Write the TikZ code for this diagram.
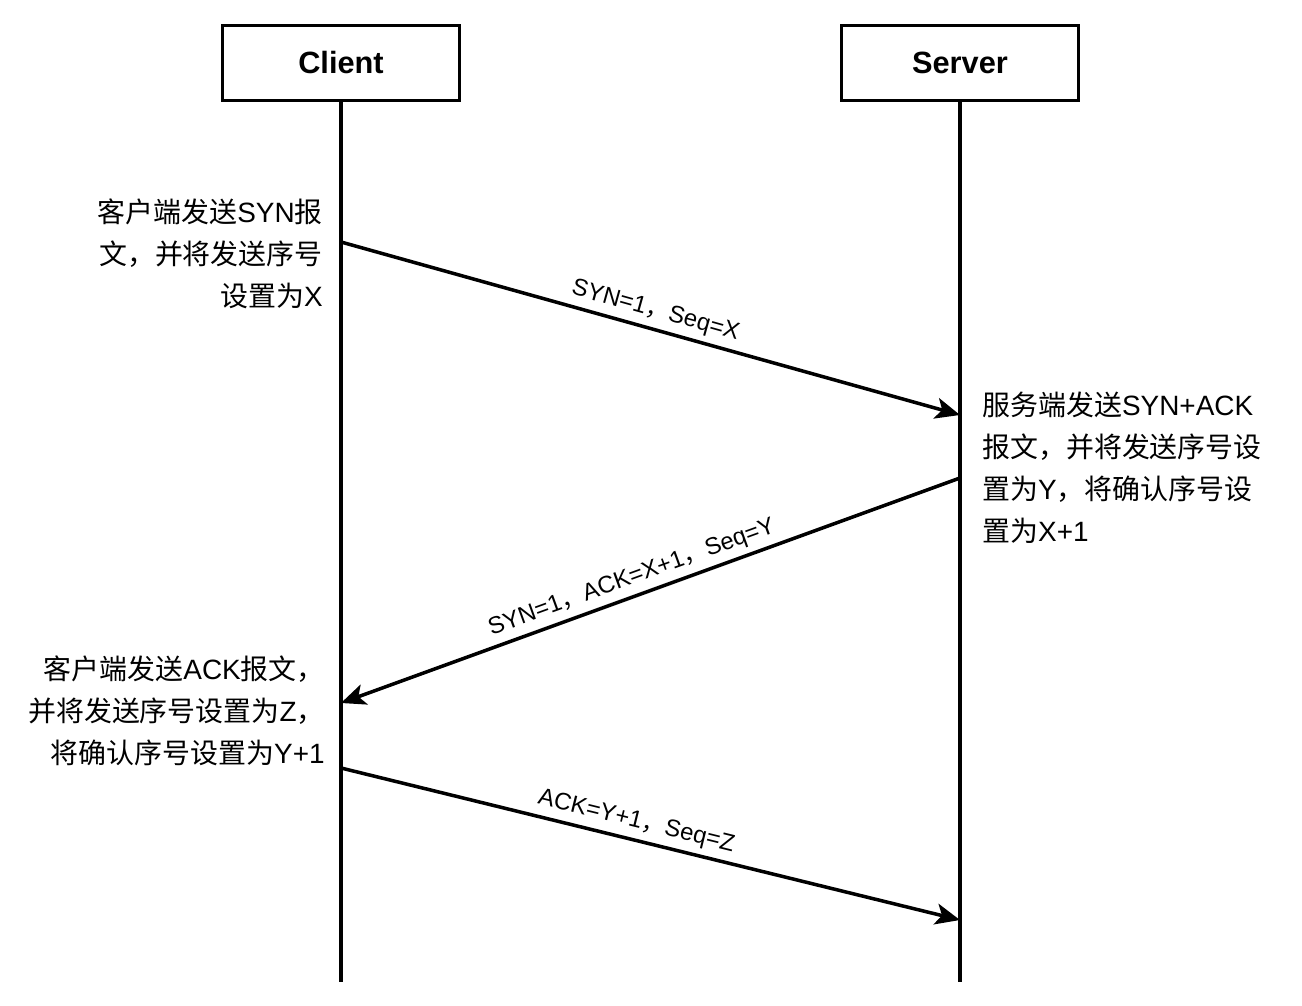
\documentclass[tikz,border=0pt]{standalone}
\usepackage{fontspec}
\setmainfont{Liberation Sans}
\newfontfamily\cjk{Noto Sans CJK SC}
\usetikzlibrary{arrows.meta,positioning}

\begin{document}
\begin{tikzpicture}[
    x=0.02cm, y=-0.02cm,
    >={Stealth[length=14pt,width=12pt,inset=3.5pt]},
    party/.style={draw,line width=2pt,minimum width=4.74cm,minimum height=1.5cm,
                  font=\fontsize{17.5}{21}\selectfont\bfseries},
    life/.style={line width=2pt},
    msg/.style={line width=2pt},
    note/.style={inner sep=0pt,font=\fontsize{15.9}{23.9}\selectfont},
    lbl/.style={sloped,above,inner sep=3pt,font=\fontsize{13.6}{16}\selectfont}
  ]
  \useasboundingbox (0,0) rectangle (1302,1006);

  \node[party] (client) at (341,63) {Client};
  \node[party] (server) at (960,63) {Server};

  \coordinate (cend) at (341,982);
  \coordinate (send) at (960,982);
  \draw[life] (client.south) -- (cend);
  \draw[life] (server.south) -- (send);

  % points on the lifelines
  \coordinate (c1) at (341,242);
  \coordinate (s1) at (960,415);
  \coordinate (c2) at (341,703);
  \coordinate (s2) at (960,478);
  \coordinate (c3) at (341,768);
  \coordinate (s3) at (960,920);

  \draw[msg,->] (c1) -- node[lbl,pos=0.5]{SYN=1{\cjk ，}Seq=X} (s1);
  \draw[msg,<-] (c2) -- node[lbl,pos=0.48]{SYN=1{\cjk ，}ACK=X+1{\cjk ，}Seq=Y} (s2);
  \draw[msg,->] (c3) -- node[lbl,pos=0.47]{ACK=Y+1{\cjk ，}Seq=Z} (s3);

  \node[note,anchor=east,align=right] (n1) at (323,254)
    {{\cjk 客户端发送}SYN{\cjk 报}\\{\cjk 文，并将发送序号}\\{\cjk 设置为}X};
  \node[note,anchor=west,align=left] (n2) at (982,468)
    {{\cjk 服务端发送}SYN+ACK\\{\cjk 报文，并将发送序号设}\\{\cjk 置为}Y{\cjk ，将确认序号设}\\{\cjk 置为}X+1};
  \node[note,anchor=east,align=right] (n3) at (325,711)
    {{\cjk 客户端发送}ACK{\cjk 报文，}\\{\cjk 并将发送序号设置为}Z{\cjk ，}\\{\cjk 将确认序号设置为}Y+1};
\end{tikzpicture}
\end{document}
